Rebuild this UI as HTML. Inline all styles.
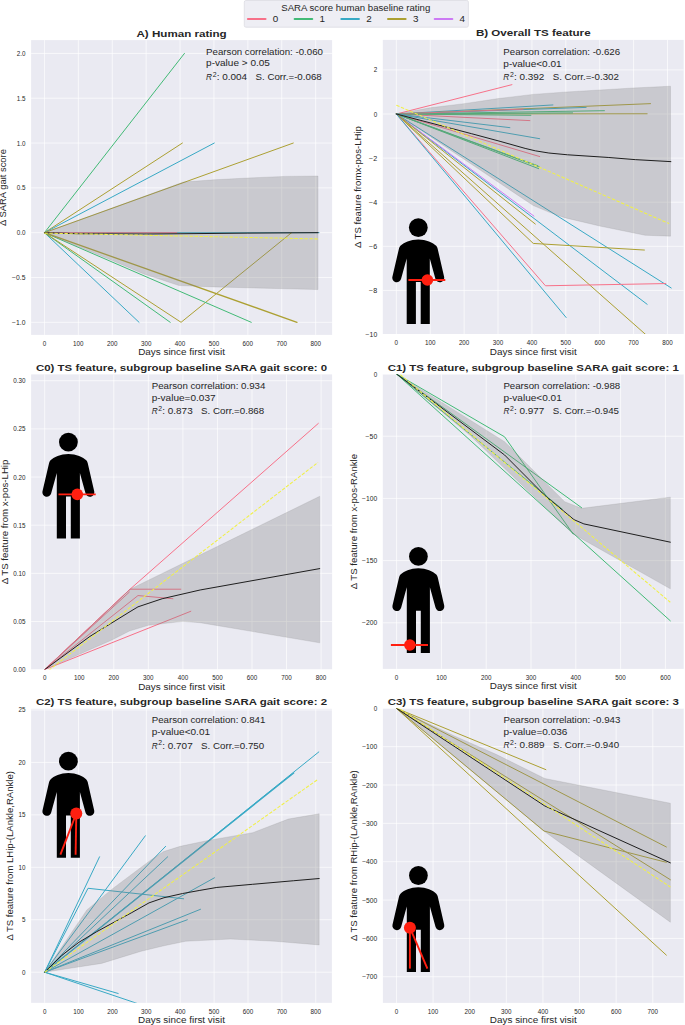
<!DOCTYPE html>
<html><head><meta charset="utf-8"><title>SARA gait</title>
<style>
html,body{margin:0;padding:0;background:#fff;}
svg{display:block;}
text{font-family:"Liberation Sans", sans-serif;fill:#262626;}
</style></head>
<body>
<svg width="685" height="1025" viewBox="0 0 685 1025">
<rect width="685" height="1025" fill="#fff"/>
<clipPath id="cA"><rect x="31.1" y="40.1" width="301.00" height="294.80"/></clipPath>
<rect x="31.1" y="40.1" width="301.00" height="294.80" fill="#eaeaf2"/>
<path d="M44.45 40.1V334.9M78.35 40.1V334.9M112.25 40.1V334.9M146.15 40.1V334.9M180.05 40.1V334.9M213.95 40.1V334.9M247.85 40.1V334.9M281.75 40.1V334.9M315.65 40.1V334.9M31.1 322.30H332.1M31.1 277.49H332.1M31.1 232.67H332.1M31.1 187.85H332.1M31.1 143.04H332.1M31.1 98.22H332.1M31.1 53.41H332.1" stroke="#fff" stroke-width="0.85" stroke-opacity="0.8" fill="none"/>
<g clip-path="url(#cA)" fill="none" stroke-linejoin="round" stroke-linecap="round">
<polyline points="44.45,232.67 319.04,232.67" stroke="#38a9c5" stroke-width="1.0"/>
<polyline points="44.45,232.67 176.66,232.67" stroke="#f77189" stroke-width="1.0"/>
<polyline points="44.45,232.67 184.46,53.41" stroke="#42ba76" stroke-width="1.0"/>
<polyline points="44.45,232.67 182.42,143.04" stroke="#aca032" stroke-width="1.0"/>
<polyline points="44.45,232.67 214.29,143.04" stroke="#38a9c5" stroke-width="1.0"/>
<polyline points="44.45,232.67 293.28,143.04" stroke="#aca032" stroke-width="1.0"/>
<polyline points="44.45,232.67 139.03,322.30" stroke="#38a9c5" stroke-width="1.0"/>
<polyline points="44.45,232.67 170.22,322.30" stroke="#42ba76" stroke-width="1.0"/>
<polyline points="44.45,232.67 181.07,322.30 291.58,232.67" stroke="#aca032" stroke-width="1.0"/>
<polyline points="44.45,232.67 251.24,322.30" stroke="#42ba76" stroke-width="1.0"/>
<polyline points="44.45,232.67 297.00,322.30" stroke="#aca032" stroke-width="1.3"/>
<polygon points="44.45,232.67 183.44,182.03 213.95,179.79 247.85,178.00 285.14,176.38 318.02,176.02 318.02,289.59 213.95,286.90 179.03,285.55 143.78,273.90 109.88,259.56 44.45,232.67" fill="#808080" fill-opacity="0.31" stroke="#808080" stroke-opacity="0.25" stroke-width="0.7" stroke-linejoin="round"/>
<polyline points="44.45,232.67 78.35,233.75 146.15,234.01 180.05,233.75 247.85,233.12 318.02,232.67" stroke="#1e1e1e" stroke-width="1.0"/>
<polyline points="44.45,233.12 318.02,238.94" stroke="#f0f048" stroke-width="1.05" stroke-dasharray="3.4 1.6" stroke-linecap="butt"/>
</g>
<text x="44.45" y="345.70" font-size="6.40" textLength="3.50" lengthAdjust="spacingAndGlyphs" text-anchor="middle">0</text>
<text x="78.35" y="345.70" font-size="6.40" textLength="10.50" lengthAdjust="spacingAndGlyphs" text-anchor="middle">100</text>
<text x="112.25" y="345.70" font-size="6.40" textLength="10.50" lengthAdjust="spacingAndGlyphs" text-anchor="middle">200</text>
<text x="146.15" y="345.70" font-size="6.40" textLength="10.50" lengthAdjust="spacingAndGlyphs" text-anchor="middle">300</text>
<text x="180.05" y="345.70" font-size="6.40" textLength="10.50" lengthAdjust="spacingAndGlyphs" text-anchor="middle">400</text>
<text x="213.95" y="345.70" font-size="6.40" textLength="10.50" lengthAdjust="spacingAndGlyphs" text-anchor="middle">500</text>
<text x="247.85" y="345.70" font-size="6.40" textLength="10.50" lengthAdjust="spacingAndGlyphs" text-anchor="middle">600</text>
<text x="281.75" y="345.70" font-size="6.40" textLength="10.50" lengthAdjust="spacingAndGlyphs" text-anchor="middle">700</text>
<text x="315.65" y="345.70" font-size="6.40" textLength="10.50" lengthAdjust="spacingAndGlyphs" text-anchor="middle">800</text>
<text x="25.50" y="324.80" font-size="6.40" textLength="13.36" lengthAdjust="spacingAndGlyphs" text-anchor="end">−1.0</text>
<text x="25.50" y="279.99" font-size="6.40" textLength="13.36" lengthAdjust="spacingAndGlyphs" text-anchor="end">−0.5</text>
<text x="25.50" y="235.17" font-size="6.40" textLength="8.75" lengthAdjust="spacingAndGlyphs" text-anchor="end">0.0</text>
<text x="25.50" y="190.35" font-size="6.40" textLength="8.75" lengthAdjust="spacingAndGlyphs" text-anchor="end">0.5</text>
<text x="25.50" y="145.54" font-size="6.40" textLength="8.75" lengthAdjust="spacingAndGlyphs" text-anchor="end">1.0</text>
<text x="25.50" y="100.72" font-size="6.40" textLength="8.75" lengthAdjust="spacingAndGlyphs" text-anchor="end">1.5</text>
<text x="25.50" y="55.91" font-size="6.40" textLength="8.75" lengthAdjust="spacingAndGlyphs" text-anchor="end">2.0</text>
<text x="181.60" y="355.30" font-size="8.99" textLength="86.83" lengthAdjust="spacingAndGlyphs" text-anchor="middle">Days since first visit</text>
<text x="6.40" y="187.50" font-size="8.99" textLength="76.96" lengthAdjust="spacingAndGlyphs" text-anchor="middle" transform="rotate(-90 6.40 187.50)">Δ SARA gait score</text>
<text x="181.60" y="36.65" font-size="9.75" textLength="90.23" lengthAdjust="spacingAndGlyphs" text-anchor="middle" font-weight="bold">A) Human rating</text>
<text x="206.10" y="54.80" font-size="8.99" textLength="116.81" lengthAdjust="spacingAndGlyphs">Pearson correlation: -0.060</text>
<text x="206.10" y="66.40" font-size="8.99" textLength="63.87" lengthAdjust="spacingAndGlyphs">p-value &gt; 0.05</text>
<text x="206.10" y="80.00" font-size="8.99" textLength="6.00" lengthAdjust="spacingAndGlyphs" font-style="italic">R</text>
<text x="212.70" y="76.60" font-size="6.30" textLength="3.82" lengthAdjust="spacingAndGlyphs">2</text>
<text x="216.70" y="80.00" font-size="8.99" textLength="30.36" lengthAdjust="spacingAndGlyphs">: 0.004</text>
<text x="255.50" y="80.00" font-size="8.99" textLength="66.22" lengthAdjust="spacingAndGlyphs">S. Corr.=-0.068</text>
<clipPath id="cB"><rect x="382.8" y="39.9" width="300.90" height="294.20"/></clipPath>
<rect x="382.8" y="39.9" width="300.90" height="294.20" fill="#eaeaf2"/>
<path d="M396.35 39.9V334.1M430.24 39.9V334.1M464.13 39.9V334.1M498.02 39.9V334.1M531.91 39.9V334.1M565.80 39.9V334.1M599.69 39.9V334.1M633.58 39.9V334.1M667.47 39.9V334.1M382.8 334.50H683.7M382.8 290.40H683.7M382.8 246.30H683.7M382.8 202.20H683.7M382.8 158.10H683.7M382.8 114.00H683.7M382.8 69.90H683.7" stroke="#fff" stroke-width="0.85" stroke-opacity="0.8" fill="none"/>
<g clip-path="url(#cB)" fill="none" stroke-linejoin="round" stroke-linecap="round">
<polyline points="396.35,114.00 511.91,84.67" stroke="#f77189" stroke-width="1.0"/>
<polyline points="396.35,114.00 552.92,104.96" stroke="#38a9c5" stroke-width="1.0"/>
<polyline points="396.35,114.00 650.52,103.64" stroke="#aca032" stroke-width="1.0"/>
<polyline points="396.35,114.00 647.14,113.78" stroke="#aca032" stroke-width="1.0"/>
<polyline points="396.35,114.00 604.43,110.69" stroke="#42ba76" stroke-width="1.0"/>
<polyline points="396.35,114.00 586.13,107.39" stroke="#38a9c5" stroke-width="1.0"/>
<polyline points="396.35,114.00 572.58,112.90" stroke="#42ba76" stroke-width="1.0"/>
<polyline points="396.35,114.00 523.10,109.15" stroke="#f77189" stroke-width="1.0"/>
<polyline points="396.35,114.00 529.88,120.61" stroke="#f77189" stroke-width="1.0"/>
<polyline points="396.35,114.00 530.89,115.32" stroke="#42ba76" stroke-width="1.0"/>
<polyline points="396.35,114.00 509.88,127.67" stroke="#38a9c5" stroke-width="1.0"/>
<polyline points="396.35,114.00 539.70,138.70" stroke="#38a9c5" stroke-width="1.0"/>
<polyline points="396.35,114.00 539.70,156.56" stroke="#f77189" stroke-width="1.0"/>
<polyline points="396.35,114.00 539.70,167.14" stroke="#42ba76" stroke-width="1.0"/>
<polyline points="396.35,114.00 538.69,168.68" stroke="#42ba76" stroke-width="1.0"/>
<polyline points="396.35,114.00 538.01,165.82" stroke="#42ba76" stroke-width="1.0"/>
<polyline points="396.35,114.00 671.20,287.97" stroke="#38a9c5" stroke-width="1.0"/>
<polyline points="396.35,114.00 647.14,304.29" stroke="#38a9c5" stroke-width="1.0"/>
<polyline points="396.35,114.00 533.94,216.09" stroke="#cc7af4" stroke-width="1.0"/>
<polyline points="396.35,114.00 535.30,224.03" stroke="#aca032" stroke-width="1.0"/>
<polyline points="396.35,114.00 533.27,243.43 644.42,250.05" stroke="#aca032" stroke-width="1.0"/>
<polyline points="396.35,114.00 653.91,341.78" stroke="#aca032" stroke-width="1.0"/>
<polyline points="396.35,114.00 545.47,285.77 665.78,283.56" stroke="#f77189" stroke-width="1.0"/>
<polyline points="396.35,114.00 566.14,317.52" stroke="#38a9c5" stroke-width="1.0"/>
<polygon points="396.35,114.00 429.90,107.83 464.13,103.64 498.36,98.56 532.93,94.38 566.82,91.95 600.37,89.97 633.58,87.98 670.52,86.22 670.52,236.16 645.10,235.28 599.69,226.01 564.44,217.63 548.86,212.12 533.27,205.51 520.39,196.91 396.35,114.00" fill="#808080" fill-opacity="0.31" stroke="#808080" stroke-opacity="0.25" stroke-width="0.7" stroke-linejoin="round"/>
<polyline points="396.35,114.00 471.25,133.62 500.05,141.34 525.13,148.40 535.30,150.82 548.86,153.03 567.49,154.79 608.16,157.44 635.27,159.64 670.86,161.63" stroke="#1e1e1e" stroke-width="1.0"/>
<polyline points="396.35,105.18 669.16,223.59" stroke="#f0f048" stroke-width="1.05" stroke-dasharray="3.4 1.6" stroke-linecap="butt"/>
</g>
<text x="396.35" y="344.90" font-size="6.40" textLength="3.50" lengthAdjust="spacingAndGlyphs" text-anchor="middle">0</text>
<text x="430.24" y="344.90" font-size="6.40" textLength="10.50" lengthAdjust="spacingAndGlyphs" text-anchor="middle">100</text>
<text x="464.13" y="344.90" font-size="6.40" textLength="10.50" lengthAdjust="spacingAndGlyphs" text-anchor="middle">200</text>
<text x="498.02" y="344.90" font-size="6.40" textLength="10.50" lengthAdjust="spacingAndGlyphs" text-anchor="middle">300</text>
<text x="531.91" y="344.90" font-size="6.40" textLength="10.50" lengthAdjust="spacingAndGlyphs" text-anchor="middle">400</text>
<text x="565.80" y="344.90" font-size="6.40" textLength="10.50" lengthAdjust="spacingAndGlyphs" text-anchor="middle">500</text>
<text x="599.69" y="344.90" font-size="6.40" textLength="10.50" lengthAdjust="spacingAndGlyphs" text-anchor="middle">600</text>
<text x="633.58" y="344.90" font-size="6.40" textLength="10.50" lengthAdjust="spacingAndGlyphs" text-anchor="middle">700</text>
<text x="667.47" y="344.90" font-size="6.40" textLength="10.50" lengthAdjust="spacingAndGlyphs" text-anchor="middle">800</text>
<text x="377.20" y="337.00" font-size="6.40" textLength="11.61" lengthAdjust="spacingAndGlyphs" text-anchor="end">−10</text>
<text x="377.20" y="292.90" font-size="6.40" textLength="8.11" lengthAdjust="spacingAndGlyphs" text-anchor="end">−8</text>
<text x="377.20" y="248.80" font-size="6.40" textLength="8.11" lengthAdjust="spacingAndGlyphs" text-anchor="end">−6</text>
<text x="377.20" y="204.70" font-size="6.40" textLength="8.11" lengthAdjust="spacingAndGlyphs" text-anchor="end">−4</text>
<text x="377.20" y="160.60" font-size="6.40" textLength="8.11" lengthAdjust="spacingAndGlyphs" text-anchor="end">−2</text>
<text x="377.20" y="116.50" font-size="6.40" textLength="3.50" lengthAdjust="spacingAndGlyphs" text-anchor="end">0</text>
<text x="377.20" y="72.40" font-size="6.40" textLength="3.50" lengthAdjust="spacingAndGlyphs" text-anchor="end">2</text>
<text x="533.25" y="354.50" font-size="8.99" textLength="86.83" lengthAdjust="spacingAndGlyphs" text-anchor="middle">Days since first visit</text>
<text x="360.70" y="187.00" font-size="8.99" textLength="121.89" lengthAdjust="spacingAndGlyphs" text-anchor="middle" transform="rotate(-90 360.70 187.00)">Δ TS feature fromx-pos-LHip</text>
<text x="533.25" y="36.45" font-size="9.75" textLength="114.70" lengthAdjust="spacingAndGlyphs" text-anchor="middle" font-weight="bold">B) Overall TS feature</text>
<text x="503.30" y="54.90" font-size="8.99" textLength="116.81" lengthAdjust="spacingAndGlyphs">Pearson correlation: -0.626</text>
<text x="503.30" y="66.50" font-size="8.99" textLength="58.38" lengthAdjust="spacingAndGlyphs">p-value&lt;0.01</text>
<text x="503.30" y="80.10" font-size="8.99" textLength="6.00" lengthAdjust="spacingAndGlyphs" font-style="italic">R</text>
<text x="509.90" y="76.70" font-size="6.30" textLength="3.82" lengthAdjust="spacingAndGlyphs">2</text>
<text x="513.90" y="80.10" font-size="8.99" textLength="30.36" lengthAdjust="spacingAndGlyphs">: 0.392</text>
<text x="552.70" y="80.10" font-size="8.99" textLength="66.22" lengthAdjust="spacingAndGlyphs">S. Corr.=-0.302</text>
<clipPath id="cC0"><rect x="31.1" y="374.4" width="301.00" height="295.20"/></clipPath>
<rect x="31.1" y="374.4" width="301.00" height="295.20" fill="#eaeaf2"/>
<path d="M44.70 374.4V669.6M79.25 374.4V669.6M113.80 374.4V669.6M148.35 374.4V669.6M182.90 374.4V669.6M217.45 374.4V669.6M252.00 374.4V669.6M286.55 374.4V669.6M321.10 374.4V669.6M31.1 669.60H332.1M31.1 621.46H332.1M31.1 573.32H332.1M31.1 525.18H332.1M31.1 477.04H332.1M31.1 428.90H332.1M31.1 380.76H332.1" stroke="#fff" stroke-width="0.85" stroke-opacity="0.8" fill="none"/>
<g clip-path="url(#cC0)" fill="none" stroke-linejoin="round" stroke-linecap="round">
<polyline points="44.70,669.60 130.04,589.21 318.34,423.41" stroke="#f77189" stroke-width="1.0"/>
<polyline points="44.70,669.60 130.04,589.21 180.83,589.21" stroke="#f77189" stroke-width="1.0"/>
<polyline points="44.70,669.60 137.99,595.56 172.88,598.74" stroke="#f77189" stroke-width="1.0"/>
<polyline points="44.70,669.60 190.85,611.25" stroke="#f77189" stroke-width="1.0"/>
<polyline points="44.70,669.60 129.35,592.09" stroke="#f77189" stroke-width="1.0"/>
<polygon points="44.70,669.60 130.04,589.21 319.72,496.30 319.72,642.83 200.18,622.71 182.90,621.36 148.35,625.31 129.35,631.09 112.42,639.75 44.70,669.60" fill="#808080" fill-opacity="0.31" stroke="#808080" stroke-opacity="0.25" stroke-width="0.7" stroke-linejoin="round"/>
<polyline points="44.70,669.60 89.96,636.38 130.04,611.64 137.99,606.83 162.17,598.74 200.18,589.98 319.72,568.60" stroke="#1e1e1e" stroke-width="1.0"/>
<polyline points="44.70,673.45 317.99,462.41" stroke="#f0f048" stroke-width="1.05" stroke-dasharray="3.4 1.6" stroke-linecap="butt"/>
</g>
<text x="44.70" y="680.40" font-size="6.40" textLength="3.50" lengthAdjust="spacingAndGlyphs" text-anchor="middle">0</text>
<text x="79.25" y="680.40" font-size="6.40" textLength="10.50" lengthAdjust="spacingAndGlyphs" text-anchor="middle">100</text>
<text x="113.80" y="680.40" font-size="6.40" textLength="10.50" lengthAdjust="spacingAndGlyphs" text-anchor="middle">200</text>
<text x="148.35" y="680.40" font-size="6.40" textLength="10.50" lengthAdjust="spacingAndGlyphs" text-anchor="middle">300</text>
<text x="182.90" y="680.40" font-size="6.40" textLength="10.50" lengthAdjust="spacingAndGlyphs" text-anchor="middle">400</text>
<text x="217.45" y="680.40" font-size="6.40" textLength="10.50" lengthAdjust="spacingAndGlyphs" text-anchor="middle">500</text>
<text x="252.00" y="680.40" font-size="6.40" textLength="10.50" lengthAdjust="spacingAndGlyphs" text-anchor="middle">600</text>
<text x="286.55" y="680.40" font-size="6.40" textLength="10.50" lengthAdjust="spacingAndGlyphs" text-anchor="middle">700</text>
<text x="321.10" y="680.40" font-size="6.40" textLength="10.50" lengthAdjust="spacingAndGlyphs" text-anchor="middle">800</text>
<text x="25.50" y="672.10" font-size="6.40" textLength="12.25" lengthAdjust="spacingAndGlyphs" text-anchor="end">0.00</text>
<text x="25.50" y="623.96" font-size="6.40" textLength="12.25" lengthAdjust="spacingAndGlyphs" text-anchor="end">0.05</text>
<text x="25.50" y="575.82" font-size="6.40" textLength="12.25" lengthAdjust="spacingAndGlyphs" text-anchor="end">0.10</text>
<text x="25.50" y="527.68" font-size="6.40" textLength="12.25" lengthAdjust="spacingAndGlyphs" text-anchor="end">0.15</text>
<text x="25.50" y="479.54" font-size="6.40" textLength="12.25" lengthAdjust="spacingAndGlyphs" text-anchor="end">0.20</text>
<text x="25.50" y="431.40" font-size="6.40" textLength="12.25" lengthAdjust="spacingAndGlyphs" text-anchor="end">0.25</text>
<text x="25.50" y="383.26" font-size="6.40" textLength="12.25" lengthAdjust="spacingAndGlyphs" text-anchor="end">0.30</text>
<text x="181.60" y="690.00" font-size="8.99" textLength="86.83" lengthAdjust="spacingAndGlyphs" text-anchor="middle">Days since first visit</text>
<text x="7.60" y="522.00" font-size="8.99" textLength="124.63" lengthAdjust="spacingAndGlyphs" text-anchor="middle" transform="rotate(-90 7.60 522.00)">Δ TS feature from x-pos-LHip</text>
<text x="181.60" y="370.95" font-size="9.75" textLength="291.18" lengthAdjust="spacingAndGlyphs" text-anchor="middle" font-weight="bold">C0) TS feature, subgroup baseline SARA gait score: 0</text>
<text x="151.70" y="389.00" font-size="8.99" textLength="113.69" lengthAdjust="spacingAndGlyphs">Pearson correlation: 0.934</text>
<text x="151.70" y="400.60" font-size="8.99" textLength="63.87" lengthAdjust="spacingAndGlyphs">p-value=0.037</text>
<text x="151.70" y="414.20" font-size="8.99" textLength="6.00" lengthAdjust="spacingAndGlyphs" font-style="italic">R</text>
<text x="158.30" y="410.80" font-size="6.30" textLength="3.82" lengthAdjust="spacingAndGlyphs">2</text>
<text x="162.30" y="414.20" font-size="8.99" textLength="30.36" lengthAdjust="spacingAndGlyphs">: 0.873</text>
<text x="201.10" y="414.20" font-size="8.99" textLength="63.10" lengthAdjust="spacingAndGlyphs">S. Corr.=0.868</text>
<clipPath id="cC1"><rect x="382.8" y="374.3" width="300.90" height="294.60"/></clipPath>
<rect x="382.8" y="374.3" width="300.90" height="294.60" fill="#eaeaf2"/>
<path d="M396.60 374.3V668.9M441.40 374.3V668.9M486.20 374.3V668.9M531.00 374.3V668.9M575.80 374.3V668.9M620.60 374.3V668.9M665.40 374.3V668.9M382.8 622.80H683.7M382.8 560.60H683.7M382.8 498.40H683.7M382.8 436.20H683.7M382.8 374.00H683.7" stroke="#fff" stroke-width="0.85" stroke-opacity="0.8" fill="none"/>
<g clip-path="url(#cC1)" fill="none" stroke-linejoin="round" stroke-linecap="round">
<polyline points="396.60,374.00 504.57,436.82 573.11,533.98" stroke="#42ba76" stroke-width="1.0"/>
<polyline points="396.60,374.00 581.62,507.73" stroke="#42ba76" stroke-width="1.0"/>
<polyline points="396.60,374.00 562.36,509.22" stroke="#42ba76" stroke-width="1.0"/>
<polyline points="396.60,374.00 670.33,620.81" stroke="#42ba76" stroke-width="1.0"/>
<polygon points="396.60,374.00 504.57,441.67 564.60,501.63 581.62,508.35 670.33,497.16 670.33,588.84 573.11,533.98 469.62,434.96 396.60,374.00" fill="#808080" fill-opacity="0.31" stroke="#808080" stroke-opacity="0.25" stroke-width="0.7" stroke-linejoin="round"/>
<polyline points="396.60,374.00 504.57,454.98 545.34,495.91 574.01,519.67 583.86,523.90 670.33,542.19" stroke="#1e1e1e" stroke-width="1.0"/>
<polyline points="396.60,371.51 670.33,602.27" stroke="#f0f048" stroke-width="1.05" stroke-dasharray="3.4 1.6" stroke-linecap="butt"/>
</g>
<text x="396.60" y="679.70" font-size="6.40" textLength="3.50" lengthAdjust="spacingAndGlyphs" text-anchor="middle">0</text>
<text x="441.40" y="679.70" font-size="6.40" textLength="10.50" lengthAdjust="spacingAndGlyphs" text-anchor="middle">100</text>
<text x="486.20" y="679.70" font-size="6.40" textLength="10.50" lengthAdjust="spacingAndGlyphs" text-anchor="middle">200</text>
<text x="531.00" y="679.70" font-size="6.40" textLength="10.50" lengthAdjust="spacingAndGlyphs" text-anchor="middle">300</text>
<text x="575.80" y="679.70" font-size="6.40" textLength="10.50" lengthAdjust="spacingAndGlyphs" text-anchor="middle">400</text>
<text x="620.60" y="679.70" font-size="6.40" textLength="10.50" lengthAdjust="spacingAndGlyphs" text-anchor="middle">500</text>
<text x="665.40" y="679.70" font-size="6.40" textLength="10.50" lengthAdjust="spacingAndGlyphs" text-anchor="middle">600</text>
<text x="377.20" y="625.30" font-size="6.40" textLength="15.11" lengthAdjust="spacingAndGlyphs" text-anchor="end">−200</text>
<text x="377.20" y="563.10" font-size="6.40" textLength="15.11" lengthAdjust="spacingAndGlyphs" text-anchor="end">−150</text>
<text x="377.20" y="500.90" font-size="6.40" textLength="15.11" lengthAdjust="spacingAndGlyphs" text-anchor="end">−100</text>
<text x="377.20" y="438.70" font-size="6.40" textLength="11.61" lengthAdjust="spacingAndGlyphs" text-anchor="end">−50</text>
<text x="377.20" y="376.50" font-size="6.40" textLength="3.50" lengthAdjust="spacingAndGlyphs" text-anchor="end">0</text>
<text x="533.25" y="689.30" font-size="8.99" textLength="86.83" lengthAdjust="spacingAndGlyphs" text-anchor="middle">Days since first visit</text>
<text x="357.50" y="521.60" font-size="8.99" textLength="135.18" lengthAdjust="spacingAndGlyphs" text-anchor="middle" transform="rotate(-90 357.50 521.60)">Δ TS feature from x-pos-RAnkle</text>
<text x="533.25" y="370.85" font-size="9.75" textLength="291.18" lengthAdjust="spacingAndGlyphs" text-anchor="middle" font-weight="bold">C1) TS feature, subgroup baseline SARA gait score: 1</text>
<text x="503.40" y="389.00" font-size="8.99" textLength="116.81" lengthAdjust="spacingAndGlyphs">Pearson correlation: -0.988</text>
<text x="503.40" y="400.60" font-size="8.99" textLength="58.38" lengthAdjust="spacingAndGlyphs">p-value&lt;0.01</text>
<text x="503.40" y="414.20" font-size="8.99" textLength="6.00" lengthAdjust="spacingAndGlyphs" font-style="italic">R</text>
<text x="510.00" y="410.80" font-size="6.30" textLength="3.82" lengthAdjust="spacingAndGlyphs">2</text>
<text x="514.00" y="414.20" font-size="8.99" textLength="30.36" lengthAdjust="spacingAndGlyphs">: 0.977</text>
<text x="552.80" y="414.20" font-size="8.99" textLength="66.22" lengthAdjust="spacingAndGlyphs">S. Corr.=-0.945</text>
<clipPath id="cC2"><rect x="31.1" y="708.8" width="300.80" height="294.05"/></clipPath>
<rect x="31.1" y="708.8" width="300.80" height="294.05" fill="#eaeaf2"/>
<path d="M44.65 708.8V1002.85M78.54 708.8V1002.85M112.43 708.8V1002.85M146.32 708.8V1002.85M180.21 708.8V1002.85M214.10 708.8V1002.85M247.99 708.8V1002.85M281.88 708.8V1002.85M315.77 708.8V1002.85M31.1 972.20H331.9M31.1 919.75H331.9M31.1 867.30H331.9M31.1 814.85H331.9M31.1 762.40H331.9M31.1 709.95H331.9" stroke="#fff" stroke-width="0.85" stroke-opacity="0.8" fill="none"/>
<g clip-path="url(#cC2)" fill="none" stroke-linejoin="round" stroke-linecap="round">
<polyline points="44.65,972.20 99.55,856.81" stroke="#38a9c5" stroke-width="1.0"/>
<polyline points="44.65,972.20 88.03,888.28 183.60,898.77" stroke="#38a9c5" stroke-width="1.0"/>
<polyline points="44.65,972.20 145.30,835.83" stroke="#38a9c5" stroke-width="1.0"/>
<polyline points="44.65,972.20 165.64,846.32" stroke="#38a9c5" stroke-width="1.0"/>
<polyline points="44.65,972.20 167.67,856.81" stroke="#38a9c5" stroke-width="1.0"/>
<polyline points="44.65,972.20 318.82,751.91" stroke="#38a9c5" stroke-width="1.0"/>
<polyline points="44.65,972.20 293.74,772.89" stroke="#38a9c5" stroke-width="1.3"/>
<polyline points="44.65,972.20 214.44,877.79" stroke="#38a9c5" stroke-width="1.0"/>
<polyline points="44.65,972.20 200.54,909.26" stroke="#38a9c5" stroke-width="1.0"/>
<polyline points="44.65,972.20 187.33,919.75" stroke="#38a9c5" stroke-width="1.0"/>
<polyline points="44.65,972.20 118.19,993.49" stroke="#38a9c5" stroke-width="1.0"/>
<polyline points="44.65,972.20 137.85,1003.67" stroke="#38a9c5" stroke-width="1.0"/>
<polygon points="44.65,972.20 86.88,909.89 112.29,888.91 150.90,859.96 163.60,851.57 180.21,846.32 208.00,840.45 252.73,832.68 288.32,819.05 319.16,813.80 319.16,944.93 274.76,941.25 230.37,939.05 185.63,941.25 163.94,945.77 141.24,951.22 101.59,963.39 64.98,969.05 44.65,972.20" fill="#808080" fill-opacity="0.31" stroke="#808080" stroke-opacity="0.25" stroke-width="0.7" stroke-linejoin="round"/>
<polyline points="44.65,972.20 61.59,955.52 78.88,942.30 96.50,931.81 114.12,922.16 131.75,912.62 149.03,902.86 163.94,897.72 182.58,893.53 199.87,890.38 216.81,887.44 252.73,884.29 293.74,880.73 319.16,878.52" stroke="#1e1e1e" stroke-width="1.0"/>
<polyline points="44.65,972.20 317.46,779.71" stroke="#f0f048" stroke-width="1.05" stroke-dasharray="3.4 1.6" stroke-linecap="butt"/>
</g>
<text x="44.65" y="1013.65" font-size="6.40" textLength="3.50" lengthAdjust="spacingAndGlyphs" text-anchor="middle">0</text>
<text x="78.54" y="1013.65" font-size="6.40" textLength="10.50" lengthAdjust="spacingAndGlyphs" text-anchor="middle">100</text>
<text x="112.43" y="1013.65" font-size="6.40" textLength="10.50" lengthAdjust="spacingAndGlyphs" text-anchor="middle">200</text>
<text x="146.32" y="1013.65" font-size="6.40" textLength="10.50" lengthAdjust="spacingAndGlyphs" text-anchor="middle">300</text>
<text x="180.21" y="1013.65" font-size="6.40" textLength="10.50" lengthAdjust="spacingAndGlyphs" text-anchor="middle">400</text>
<text x="214.10" y="1013.65" font-size="6.40" textLength="10.50" lengthAdjust="spacingAndGlyphs" text-anchor="middle">500</text>
<text x="247.99" y="1013.65" font-size="6.40" textLength="10.50" lengthAdjust="spacingAndGlyphs" text-anchor="middle">600</text>
<text x="281.88" y="1013.65" font-size="6.40" textLength="10.50" lengthAdjust="spacingAndGlyphs" text-anchor="middle">700</text>
<text x="315.77" y="1013.65" font-size="6.40" textLength="10.50" lengthAdjust="spacingAndGlyphs" text-anchor="middle">800</text>
<text x="25.50" y="974.70" font-size="6.40" textLength="3.50" lengthAdjust="spacingAndGlyphs" text-anchor="end">0</text>
<text x="25.50" y="922.25" font-size="6.40" textLength="3.50" lengthAdjust="spacingAndGlyphs" text-anchor="end">5</text>
<text x="25.50" y="869.80" font-size="6.40" textLength="7.00" lengthAdjust="spacingAndGlyphs" text-anchor="end">10</text>
<text x="25.50" y="817.35" font-size="6.40" textLength="7.00" lengthAdjust="spacingAndGlyphs" text-anchor="end">15</text>
<text x="25.50" y="764.90" font-size="6.40" textLength="7.00" lengthAdjust="spacingAndGlyphs" text-anchor="end">20</text>
<text x="25.50" y="712.45" font-size="6.40" textLength="7.00" lengthAdjust="spacingAndGlyphs" text-anchor="end">25</text>
<text x="181.50" y="1023.25" font-size="8.99" textLength="86.83" lengthAdjust="spacingAndGlyphs" text-anchor="middle">Days since first visit</text>
<text x="13.00" y="855.83" font-size="8.99" textLength="169.44" lengthAdjust="spacingAndGlyphs" text-anchor="middle" transform="rotate(-90 13.00 855.83)">Δ TS feature from LHip-(LAnkle,RAnkle)</text>
<text x="181.50" y="705.35" font-size="9.75" textLength="291.18" lengthAdjust="spacingAndGlyphs" text-anchor="middle" font-weight="bold">C2) TS feature, subgroup baseline SARA gait score: 2</text>
<text x="151.70" y="723.30" font-size="8.99" textLength="113.69" lengthAdjust="spacingAndGlyphs">Pearson correlation: 0.841</text>
<text x="151.70" y="734.90" font-size="8.99" textLength="58.38" lengthAdjust="spacingAndGlyphs">p-value&lt;0.01</text>
<text x="151.70" y="748.50" font-size="8.99" textLength="6.00" lengthAdjust="spacingAndGlyphs" font-style="italic">R</text>
<text x="158.30" y="745.10" font-size="6.30" textLength="3.82" lengthAdjust="spacingAndGlyphs">2</text>
<text x="162.30" y="748.50" font-size="8.99" textLength="30.36" lengthAdjust="spacingAndGlyphs">: 0.707</text>
<text x="201.10" y="748.50" font-size="8.99" textLength="63.10" lengthAdjust="spacingAndGlyphs">S. Corr.=0.750</text>
<clipPath id="cC3"><rect x="382.9" y="708.4" width="300.80" height="294.50"/></clipPath>
<rect x="382.9" y="708.4" width="300.80" height="294.50" fill="#eaeaf2"/>
<path d="M396.45 708.4V1002.9M433.07 708.4V1002.9M469.69 708.4V1002.9M506.31 708.4V1002.9M542.93 708.4V1002.9M579.55 708.4V1002.9M616.17 708.4V1002.9M652.79 708.4V1002.9M382.9 976.75H683.7M382.9 938.40H683.7M382.9 900.05H683.7M382.9 861.70H683.7M382.9 823.35H683.7M382.9 785.00H683.7M382.9 746.65H683.7M382.9 708.30H683.7" stroke="#fff" stroke-width="0.85" stroke-opacity="0.8" fill="none"/>
<g clip-path="url(#cC3)" fill="none" stroke-linejoin="round" stroke-linecap="round">
<polyline points="396.45,708.30 545.86,769.66" stroke="#aca032" stroke-width="1.0"/>
<polyline points="396.45,708.30 666.34,846.97" stroke="#aca032" stroke-width="1.0"/>
<polyline points="396.45,708.30 544.03,831.02 666.34,862.31" stroke="#aca032" stroke-width="1.0"/>
<polyline points="396.45,708.30 670.37,879.72" stroke="#aca032" stroke-width="1.0"/>
<polyline points="396.45,708.30 666.34,955.12" stroke="#aca032" stroke-width="1.0"/>
<polygon points="396.45,708.30 454.31,735.91 496.06,754.32 544.76,778.48 670.37,803.25 670.37,922.22 544.76,831.63 396.45,708.30" fill="#808080" fill-opacity="0.31" stroke="#808080" stroke-opacity="0.25" stroke-width="0.7" stroke-linejoin="round"/>
<polyline points="396.45,708.30 544.76,805.94 670.37,862.85" stroke="#1e1e1e" stroke-width="1.0"/>
<polyline points="396.45,706.77 670.37,887.01" stroke="#f0f048" stroke-width="1.05" stroke-dasharray="3.4 1.6" stroke-linecap="butt"/>
</g>
<text x="396.45" y="1013.70" font-size="6.40" textLength="3.50" lengthAdjust="spacingAndGlyphs" text-anchor="middle">0</text>
<text x="433.07" y="1013.70" font-size="6.40" textLength="10.50" lengthAdjust="spacingAndGlyphs" text-anchor="middle">100</text>
<text x="469.69" y="1013.70" font-size="6.40" textLength="10.50" lengthAdjust="spacingAndGlyphs" text-anchor="middle">200</text>
<text x="506.31" y="1013.70" font-size="6.40" textLength="10.50" lengthAdjust="spacingAndGlyphs" text-anchor="middle">300</text>
<text x="542.93" y="1013.70" font-size="6.40" textLength="10.50" lengthAdjust="spacingAndGlyphs" text-anchor="middle">400</text>
<text x="579.55" y="1013.70" font-size="6.40" textLength="10.50" lengthAdjust="spacingAndGlyphs" text-anchor="middle">500</text>
<text x="616.17" y="1013.70" font-size="6.40" textLength="10.50" lengthAdjust="spacingAndGlyphs" text-anchor="middle">600</text>
<text x="652.79" y="1013.70" font-size="6.40" textLength="10.50" lengthAdjust="spacingAndGlyphs" text-anchor="middle">700</text>
<text x="377.30" y="979.25" font-size="6.40" textLength="15.11" lengthAdjust="spacingAndGlyphs" text-anchor="end">−700</text>
<text x="377.30" y="940.90" font-size="6.40" textLength="15.11" lengthAdjust="spacingAndGlyphs" text-anchor="end">−600</text>
<text x="377.30" y="902.55" font-size="6.40" textLength="15.11" lengthAdjust="spacingAndGlyphs" text-anchor="end">−500</text>
<text x="377.30" y="864.20" font-size="6.40" textLength="15.11" lengthAdjust="spacingAndGlyphs" text-anchor="end">−400</text>
<text x="377.30" y="825.85" font-size="6.40" textLength="15.11" lengthAdjust="spacingAndGlyphs" text-anchor="end">−300</text>
<text x="377.30" y="787.50" font-size="6.40" textLength="15.11" lengthAdjust="spacingAndGlyphs" text-anchor="end">−200</text>
<text x="377.30" y="749.15" font-size="6.40" textLength="15.11" lengthAdjust="spacingAndGlyphs" text-anchor="end">−100</text>
<text x="377.30" y="710.80" font-size="6.40" textLength="3.50" lengthAdjust="spacingAndGlyphs" text-anchor="end">0</text>
<text x="533.30" y="1023.30" font-size="8.99" textLength="86.83" lengthAdjust="spacingAndGlyphs" text-anchor="middle">Days since first visit</text>
<text x="357.00" y="855.65" font-size="8.99" textLength="170.63" lengthAdjust="spacingAndGlyphs" text-anchor="middle" transform="rotate(-90 357.00 855.65)">Δ TS feature from RHip-(LAnkle,RAnkle)</text>
<text x="533.30" y="704.95" font-size="9.75" textLength="291.18" lengthAdjust="spacingAndGlyphs" text-anchor="middle" font-weight="bold">C3) TS feature, subgroup baseline SARA gait score: 3</text>
<text x="503.50" y="723.20" font-size="8.99" textLength="116.81" lengthAdjust="spacingAndGlyphs">Pearson correlation: -0.943</text>
<text x="503.50" y="734.80" font-size="8.99" textLength="63.87" lengthAdjust="spacingAndGlyphs">p-value=0.036</text>
<text x="503.50" y="748.40" font-size="8.99" textLength="6.00" lengthAdjust="spacingAndGlyphs" font-style="italic">R</text>
<text x="510.10" y="745.00" font-size="6.30" textLength="3.82" lengthAdjust="spacingAndGlyphs">2</text>
<text x="514.10" y="748.40" font-size="8.99" textLength="30.36" lengthAdjust="spacingAndGlyphs">: 0.889</text>
<text x="552.90" y="748.40" font-size="8.99" textLength="66.22" lengthAdjust="spacingAndGlyphs">S. Corr.=-0.940</text>
<g transform="translate(392.60 218.20)">
<circle cx="25.7" cy="9.4" r="9.4" fill="#000"/>
<path d="M25.7 21.2 C33.5 21.2 40.5 24.2 43.6 27.6 Q44.6 28.6 45.0 30.2 L51.5 58.6 A4.45 4.45 0 0 1 42.8 60.6 L37.2 40.3 L37.2 105.9 L28.1 105.9 L28.1 63.7 L23.3 63.7 L23.3 105.9 L14.1 105.9 L14.1 40.3 L8.5 60.6 A4.45 4.45 0 0 1 -0.2 58.6 L6.4 30.2 Q6.8 28.6 7.8 27.6 C10.9 24.2 17.9 21.2 25.7 21.2 Z" fill="#000"/>
<line x1="15.8" y1="61.8" x2="52.7" y2="61.8" stroke="#ff1f10" stroke-width="1.9"/><circle cx="34.8" cy="61.8" r="5.8" fill="#ff1f10"/>
</g>
<g transform="translate(42.70 432.70)">
<circle cx="25.7" cy="9.4" r="9.4" fill="#000"/>
<path d="M25.7 21.2 C33.5 21.2 40.5 24.2 43.6 27.6 Q44.6 28.6 45.0 30.2 L51.5 58.6 A4.45 4.45 0 0 1 42.8 60.6 L37.2 40.3 L37.2 105.9 L28.1 105.9 L28.1 63.7 L23.3 63.7 L23.3 105.9 L14.1 105.9 L14.1 40.3 L8.5 60.6 A4.45 4.45 0 0 1 -0.2 58.6 L6.4 30.2 Q6.8 28.6 7.8 27.6 C10.9 24.2 17.9 21.2 25.7 21.2 Z" fill="#000"/>
<line x1="15.8" y1="61.7" x2="53.0" y2="61.7" stroke="#ff1f10" stroke-width="1.9"/><circle cx="34.6" cy="61.7" r="5.8" fill="#ff1f10"/>
</g>
<g transform="translate(392.70 547.00)">
<circle cx="25.7" cy="9.4" r="9.4" fill="#000"/>
<path d="M25.7 21.2 C33.5 21.2 40.5 24.2 43.6 27.6 Q44.6 28.6 45.0 30.2 L51.5 58.6 A4.45 4.45 0 0 1 42.8 60.6 L37.2 40.3 L37.2 105.9 L28.1 105.9 L28.1 63.7 L23.3 63.7 L23.3 105.9 L14.1 105.9 L14.1 40.3 L8.5 60.6 A4.45 4.45 0 0 1 -0.2 58.6 L6.4 30.2 Q6.8 28.6 7.8 27.6 C10.9 24.2 17.9 21.2 25.7 21.2 Z" fill="#000"/>
<line x1="-1.8" y1="98.0" x2="35.3" y2="98.0" stroke="#ff1f10" stroke-width="1.9"/><circle cx="17.2" cy="98.0" r="5.8" fill="#ff1f10"/>
</g>
<g transform="translate(42.70 751.80)">
<circle cx="25.7" cy="9.4" r="9.4" fill="#000"/>
<path d="M25.7 21.2 C33.5 21.2 40.5 24.2 43.6 27.6 Q44.6 28.6 45.0 30.2 L51.5 58.6 A4.45 4.45 0 0 1 42.8 60.6 L37.2 40.3 L37.2 105.9 L28.1 105.9 L28.1 63.7 L23.3 63.7 L23.3 105.9 L14.1 105.9 L14.1 40.3 L8.5 60.6 A4.45 4.45 0 0 1 -0.2 58.6 L6.4 30.2 Q6.8 28.6 7.8 27.6 C10.9 24.2 17.9 21.2 25.7 21.2 Z" fill="#000"/>
<line x1="33.6" y1="61.7" x2="17.7" y2="102.9" stroke="#ff1f10" stroke-width="1.9"/><line x1="33.6" y1="61.7" x2="32.9" y2="102.9" stroke="#ff1f10" stroke-width="1.9"/><circle cx="33.6" cy="61.7" r="6.0" fill="#ff1f10"/>
</g>
<g transform="translate(392.70 866.10)">
<circle cx="25.7" cy="9.4" r="9.4" fill="#000"/>
<path d="M25.7 21.2 C33.5 21.2 40.5 24.2 43.6 27.6 Q44.6 28.6 45.0 30.2 L51.5 58.6 A4.45 4.45 0 0 1 42.8 60.6 L37.2 40.3 L37.2 105.9 L28.1 105.9 L28.1 63.7 L23.3 63.7 L23.3 105.9 L14.1 105.9 L14.1 40.3 L8.5 60.6 A4.45 4.45 0 0 1 -0.2 58.6 L6.4 30.2 Q6.8 28.6 7.8 27.6 C10.9 24.2 17.9 21.2 25.7 21.2 Z" fill="#000"/>
<line x1="17.2" y1="61.6" x2="17.2" y2="102.5" stroke="#ff1f10" stroke-width="1.9"/><line x1="17.2" y1="61.6" x2="34.7" y2="102.5" stroke="#ff1f10" stroke-width="1.9"/><circle cx="17.2" cy="61.6" r="6.0" fill="#ff1f10"/>
</g>
<rect x="244.3" y="0.5" width="224.1" height="26.7" rx="1.6" fill="#eeeef4" stroke="#dcdce2" stroke-width="0.8"/>
<text x="355.80" y="10.90" font-size="8.99" textLength="149.07" lengthAdjust="spacingAndGlyphs" text-anchor="middle">SARA score human baseline rating</text>
<line x1="247.95" y1="19.0" x2="265.50" y2="19.0" stroke="#f77189" stroke-width="2.1" stroke-linecap="round"/>
<text x="272.80" y="21.90" font-size="8.99" textLength="5.49" lengthAdjust="spacingAndGlyphs">0</text>
<line x1="294.65" y1="19.0" x2="312.20" y2="19.0" stroke="#42ba76" stroke-width="2.1" stroke-linecap="round"/>
<text x="319.50" y="21.90" font-size="8.99" textLength="5.49" lengthAdjust="spacingAndGlyphs">1</text>
<line x1="341.35" y1="19.0" x2="358.90" y2="19.0" stroke="#38a9c5" stroke-width="2.1" stroke-linecap="round"/>
<text x="366.20" y="21.90" font-size="8.99" textLength="5.49" lengthAdjust="spacingAndGlyphs">2</text>
<line x1="388.05" y1="19.0" x2="405.60" y2="19.0" stroke="#aca032" stroke-width="2.1" stroke-linecap="round"/>
<text x="412.90" y="21.90" font-size="8.99" textLength="5.49" lengthAdjust="spacingAndGlyphs">3</text>
<line x1="434.75" y1="19.0" x2="452.30" y2="19.0" stroke="#cc7af4" stroke-width="2.1" stroke-linecap="round"/>
<text x="459.60" y="21.90" font-size="8.99" textLength="5.49" lengthAdjust="spacingAndGlyphs">4</text>
</svg>
</body></html>
